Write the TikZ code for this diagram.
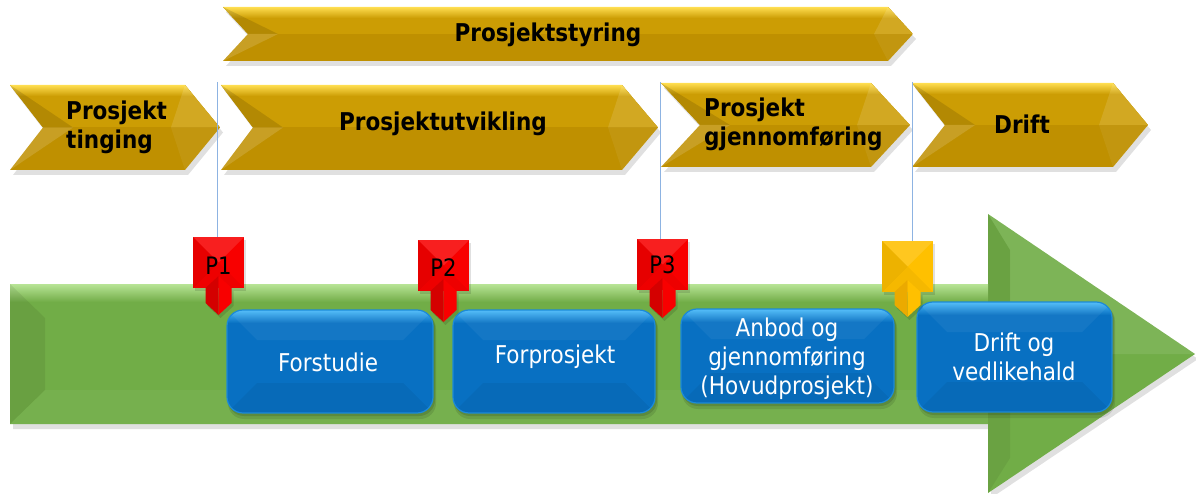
\documentclass[tikz,border=0pt]{standalone}
\usepackage{fontspec}
\setmainfont[FakeStretch=0.88]{DejaVu Sans}
\definecolor{goldA}{HTML}{FFDE50}
\definecolor{goldB}{HTML}{CC9D04}
\definecolor{goldC}{HTML}{BF9000}
\definecolor{grnA}{HTML}{B8E496}
\definecolor{grnB}{HTML}{71AD47}
\definecolor{bluA}{HTML}{4CBBF9}
\definecolor{bluB}{HTML}{0870C2}
\definecolor{bluE}{HTML}{1C8AD8}
\definecolor{redB}{HTML}{F80000}
\definecolor{redD}{HTML}{D40000}
\definecolor{yelB}{HTML}{FFC000}
\definecolor{yelD}{HTML}{EBAA00}
\definecolor{lineC}{HTML}{8DB3E2}

% chevron: x0, notch x, shoulder x, tip x, ytop, ybot, ymid
\newcommand{\gchev}[7]{%
 \begin{scope}[shift={(3,5)}]\fill[black,opacity=.12] (#1,#5) -- (#3,#5) -- (#4,#7) -- (#3,#6) -- (#1,#6) -- (#2,#7) -- cycle;\end{scope}
 \begin{scope}
 \clip (#1,#5) -- (#3,#5) -- (#4,#7) -- (#3,#6) -- (#1,#6) -- (#2,#7) -- cycle;
 \fill[goldC] (#1,#5) rectangle (#4,#6);
 \fill[goldB] (#1,#5) rectangle (#4,#7);
 \shade[top color=goldA,bottom color=goldB] (#1,#5) rectangle (#4,#5+11);
 \fill[black,opacity=.12] (#1,#5) -- (#2,#7) -- (#2+30,#7) -- cycle;
 \fill[white,opacity=.14] (#1,#6) -- (#2,#7) -- (#2+30,#7) -- cycle;
 \fill[white,opacity=.12] (#3,#5) -- (#4,#7) -- (#3-14,#7) -- cycle;
 \fill[white,opacity=.06] (#3,#6) -- (#4,#7) -- (#3-14,#7) -- cycle;
 \end{scope}}

% blue box: x1,y1,x2,y2
\newcommand{\bbox}[4]{%
 \fill[black,opacity=.10,rounded corners=16] (#1+1,#2+3) rectangle (#3+3,#4+6);
 \fill[black,opacity=.12,rounded corners=16] (#1+1,#2+2) rectangle (#3+2,#4+3);
 \begin{scope}
 \clip[rounded corners=16] (#1,#2) rectangle (#3,#4);
 \fill[bluB] (#1,#2) rectangle (#3,#4);
 \shade[top color=bluA,bottom color=bluB] (#1,#2) rectangle (#3,#2+13);
 \fill[white,opacity=.05] (#1,#2) -- (#1+30,#2+30) -- (#3-30,#2+30) -- (#3,#2) -- cycle;
 \fill[black,opacity=.05] (#1,#4) -- (#1+30,#4-30) -- (#3-30,#4-30) -- (#3,#4) -- cycle;
 \end{scope}
 \draw[bluE,line width=1.2,rounded corners=16] (#1,#2) rectangle (#3,#4);}

% milestone: cx, ytop, ytip, base colour, dark colour
\newcommand{\milestone}[5]{%
 \begin{scope}[shift={(2,3)}]\fill[black,opacity=.12] (#1-25.5,#2) rectangle (#1+25.5,#2+51);
 \fill[black,opacity=.12] (#1-13,#2+51) -- (#1-13,#3-12) -- (#1,#3) -- (#1+13,#3-12) -- (#1+13,#2+51) -- cycle;\end{scope}
 \fill[#4] (#1-25.5,#2) rectangle (#1+25.5,#2+51);
 \fill[white,opacity=.12] (#1-25.5,#2) -- (#1+25.5,#2) -- (#1,#2+25.5) -- cycle;
 \fill[black,opacity=.07] (#1-25.5,#2) -- (#1,#2+25.5) -- (#1-25.5,#2+51) -- cycle;
 \fill[black,opacity=.04] (#1-25.5,#2+51) -- (#1,#2+25.5) -- (#1+25.5,#2+51) -- cycle;
 \fill[#5] (#1-13,#2+51) -- (#1-13,#3-12) -- (#1,#3) -- (#1,#2+39) -- cycle;
 \fill[#4] (#1,#2+39) -- (#1,#3) -- (#1+13,#3-12) -- (#1+13,#2+51) -- cycle;}

\begin{document}
\begin{tikzpicture}[x=1pt,y=-1pt,
  chevtext/.style={font=\bfseries\fontsize{24.5}{29}\selectfont, text=black, inner sep=0pt},
  boxtext/.style={font=\fontsize{24.5}{29}\selectfont, text=white, align=center, inner sep=0pt},
  mstext/.style={font=\fontsize{24}{26}\selectfont, text=black, inner sep=0pt},
  vline/.style={draw=lineC, line width=1pt}]
\useasboundingbox (0,0) rectangle (1196,494);

% phase chevrons
\gchev{223}{248}{888}{913}{7}{61}{34}
\gchev{10}{43}{185}{220}{85}{170}{127.5}
\gchev{221}{253}{622}{658}{85}{170}{127.5}
\gchev{661}{700}{871}{910}{83}{167}{125}
\gchev{912}{945}{1113}{1148}{83}{167}{125}

% green timeline arrow
\begin{scope}[shift={(3,5)}]
\fill[black,opacity=.12] (10,284) -- (988,284) -- (988,214) -- (1195,354) -- (988,493) -- (988,424) -- (10,424) -- cycle;
\end{scope}
\begin{scope}
\clip (10,284) -- (988,284) -- (988,214) -- (1195,354) -- (988,493) -- (988,424) -- (10,424) -- cycle;
\fill[grnB] (0,200) rectangle (1196,494);
\shade[top color=grnA,bottom color=grnB] (10,284) rectangle (988,302);
\fill[black,opacity=.07] (10,284) -- (45,318) -- (45,390) -- (10,424) -- cycle;
\fill[white,opacity=.04] (10,424) -- (45,390) -- (988,390) -- (988,424) -- cycle;
\fill[white,opacity=.09] (988,214) -- (1195,354) -- (1010,354) -- (1010,250) -- cycle;
\fill[black,opacity=.06] (988,214) -- (1010,250) -- (1010,458) -- (988,493) -- cycle;
\end{scope}

% guide lines
\coordinate (v1a) at (217,82);  \coordinate (v1b) at (217,237);
\coordinate (v2a) at (660,82);  \coordinate (v2b) at (660,239);
\coordinate (v3a) at (912,82);  \coordinate (v3b) at (912,241);
\draw[vline] (v1a) -- (v1b);
\draw[vline] (v2a) -- (v2b);
\draw[vline] (v3a) -- (v3b);

% activity boxes
\bbox{227}{310}{433}{413}
\bbox{453}{310}{655}{413}
\bbox{681}{309}{894}{403}
\bbox{917}{302}{1112}{412}

% milestones
\milestone{218.5}{237}{315}{redB}{redD}
\milestone{443.5}{240}{322}{redB}{redD}
\milestone{662.5}{239}{318}{redB}{redD}
\milestone{907.5}{241}{317}{yelB}{yelD}

% texts
\node[chevtext] (styring) at (548,35) {Prosjektstyring};
\node[chevtext,align=left,anchor=west] (tinging) at (66,127.5) {Prosjekt\\tinging};
\node[chevtext] (utvikling) at (443,124) {Prosjektutvikling};
\node[chevtext,align=left,anchor=west] (gjennom) at (704,124.5) {Prosjekt\\gjennomføring};
\node[chevtext] (drift) at (1022,124) {Drift};

\node[boxtext] (forstudie) at (328,362) {Forstudie};
\node[boxtext] (forprosjekt) at (555,357) {Forprosjekt};
\node[boxtext] (anbod) at (787,359) {Anbod og\\gjennomføring\\(Hovudprosjekt)};
\node[boxtext] (driftbox) at (1014,357) {Drift og\\vedlikehald};

\node[mstext] (p1) at (218.5,266) {P1};
\node[mstext] (p2) at (443.5,268) {P2};
\node[mstext] (p3) at (662.5,265) {P3};
\end{tikzpicture}
\end{document}
